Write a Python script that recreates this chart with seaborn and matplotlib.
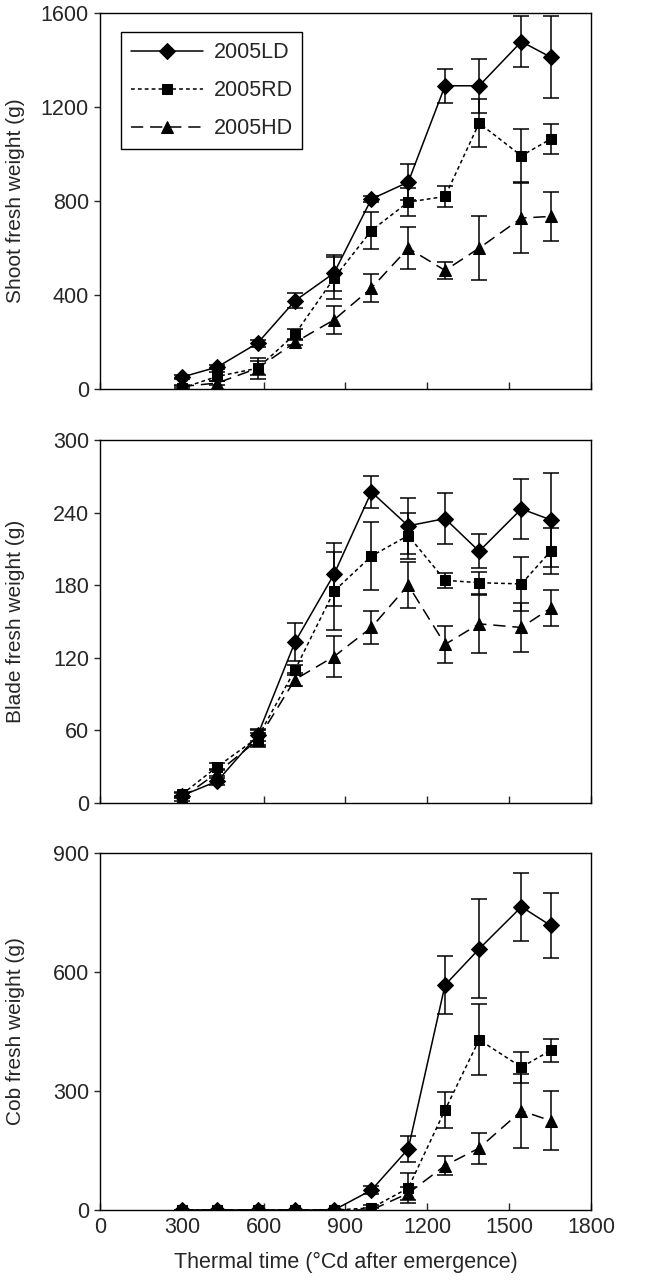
import pandas as pd
import matplotlib.pyplot as plt
import seaborn as sns

# thermal time (°Cd after emergence)
thermal = [300, 430, 578, 715, 858, 995, 1130, 1265, 1390, 1545, 1652]
series = ['2005LD', '2005RD', '2005HD']

# shoot fresh weight (g) and standard errors
shoot_ld = [51, 94, 196, 376, 494, 809, 881, 1291, 1291, 1479, 1413]
shoot_rd = [4, 54, 89, 234, 472, 675, 796, 820, 1132, 993, 1064]
shoot_hd = [11, 26, 89, 199, 295, 430, 600, 505, 600, 728, 735]
shoot_ld_err = [8, 10, 15, 31, 78, 12, 75, 73, 114, 110, 173]
shoot_rd_err = [8, 20, 45, 20, 90, 78, 60, 45, 102, 112, 65]
shoot_hd_err = [6, 10, 30, 12, 59, 59, 88, 36, 137, 149, 104]

# blade fresh weight (g)
blade_ld = [6, 18, 56, 133, 189, 257, 229, 235, 208, 243, 234]
blade_rd = [7, 30, 54, 110, 175, 204, 221, 184, 182, 181, 208]
blade_hd = [4, 25, 52, 102, 121, 145, 180, 131, 148, 145, 161]
blade_ld_err = [2, 3, 5, 16, 26, 13, 23, 21, 14, 25, 39]
blade_rd_err = [2, 3, 6, 4, 32, 28, 19, 6, 9, 22, 19]
blade_hd_err = [2, 3, 6, 5, 17, 14, 19, 15, 24, 20, 15]

# cob fresh weight (g)
cob_ld = [0, 0, 0, 0, 0, 50, 154, 567, 658, 764, 717]
cob_rd = [0, 0, 0, 0, 0, 5, 55, 252, 429, 360, 402]
cob_hd = [0, 0, 0, 0, 0, 0, 42, 112, 156, 250, 225]
cob_ld_err = [0, 0, 0, 0, 0, 10, 32, 72, 125, 85, 82]
cob_rd_err = [0, 0, 0, 0, 0, 8, 37, 46, 89, 39, 30]
cob_hd_err = [0, 0, 0, 0, 0, 4, 17, 25, 39, 93, 75]

panels = [
    ('Shoot fresh weight (g)', [shoot_ld, shoot_rd, shoot_hd],
     [shoot_ld_err, shoot_rd_err, shoot_hd_err], 1600, 400),
    ('Blade fresh weight (g)', [blade_ld, blade_rd, blade_hd],
     [blade_ld_err, blade_rd_err, blade_hd_err], 300, 60),
    ('Cob fresh weight (g)', [cob_ld, cob_rd, cob_hd],
     [cob_ld_err, cob_rd_err, cob_hd_err], 900, 300),
]

markers = {'2005LD': 'D', '2005RD': 's', '2005HD': '^'}
msizes = {'2005LD': 8, '2005RD': 7.5, '2005HD': 8.5}
dashes = {'2005RD': (2.5, 2), '2005HD': (8, 4.5)}

sns.set_style('ticks')
plt.rcParams['font.family'] = ['Liberation Sans', 'DejaVu Sans']

fig = plt.figure(figsize=(6.57, 12.8), dpi=100)
boxes = [
    [0.1522, 0.696, 0.7473, 0.2937],
    [0.1522, 0.3727, 0.7473, 0.2836],
    [0.1522, 0.0547, 0.7473, 0.279],
]

for i, (ylab, vals, errs, ymax, ystep) in enumerate(panels):
    ax = fig.add_axes(boxes[i])
    for name, y, e in zip(series, vals, errs):
        df = pd.DataFrame({'x': thermal, 'y': y})
        ax.errorbar(thermal, y, yerr=e, fmt='none', ecolor='black',
                    elinewidth=1.1, capsize=6, capthick=1.1, zorder=2)
        sns.lineplot(data=df, x='x', y='y', ax=ax, color='black',
                     marker=markers[name], markersize=msizes[name],
                     markeredgecolor='black', markerfacecolor='black',
                     linewidth=1.1, label=name, errorbar=None, zorder=3)
        if name in dashes:
            ax.lines[-1].set_dashes(dashes[name])
    ax.set_xlim(0, 1800)
    ax.set_ylim(0, ymax)
    ax.set_xticks(range(0, 1801, 300))
    ax.set_yticks(range(0, ymax + 1, ystep))
    ax.tick_params(axis='x', direction='in', length=5, width=1,
                   labelsize=15.5, pad=5)
    ax.tick_params(axis='y', direction='out', length=4, width=1,
                   labelsize=15.5, pad=4)
    for s in ax.spines.values():
        s.set_linewidth(1)
        s.set_color('black')
    ax.set_ylabel(ylab, fontsize=15)
    ax.yaxis.set_label_coords(-0.153, 0.5)
    if i < 2:
        ax.tick_params(axis='x', labelbottom=False)
        ax.set_xlabel('')
    else:
        ax.set_xlabel('Thermal time (°Cd after emergence)', fontsize=15.5, labelpad=10)
    if i == 0:
        leg = ax.legend(loc='upper left', bbox_to_anchor=(0.043, 0.949),
                        borderaxespad=0, fontsize=15.5, handlelength=3.35,
                        labelspacing=0.8, borderpad=0.45, handletextpad=0.5,
                        fancybox=False, edgecolor='black', framealpha=1)
        leg.get_frame().set_linewidth(1)
    else:
        if ax.get_legend() is not None:
            ax.get_legend().remove()

fig.savefig('out.png', dpi=100)
